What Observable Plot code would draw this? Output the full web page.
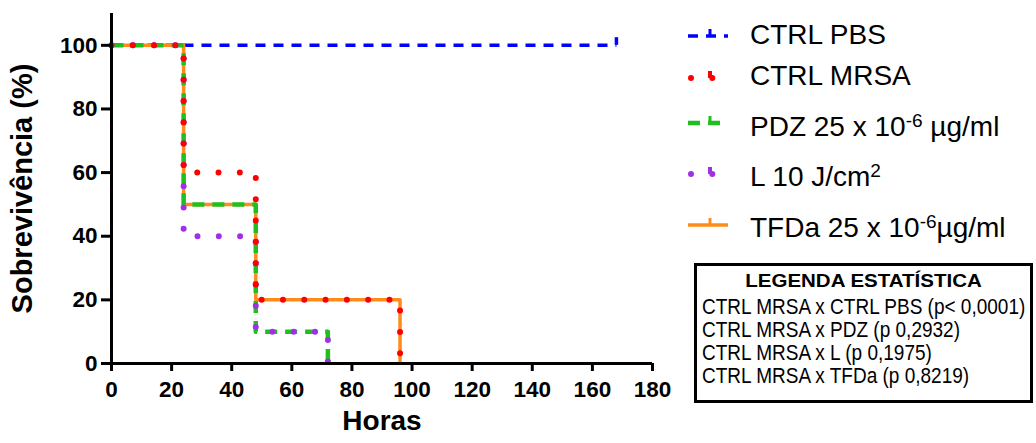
<!DOCTYPE html>
<html>
<head>
<meta charset="utf-8">
<script src="https://cdn.jsdelivr.net/npm/d3@7"></script>
<script src="https://cdn.jsdelivr.net/npm/@observablehq/plot@0.6"></script>
<style>
  body { margin: 0; background: #fff; }
  #wrap { position: relative; width: 1036px; height: 443px; font-family: "Liberation Sans", Arial, sans-serif; color: #000; }
  #wrap svg { font-family: "Liberation Sans", Arial, sans-serif; }
  .lg { position: absolute; left: 750px; font-size: 28px; line-height: 28px; white-space: nowrap; }
  .sp { position: relative; top: -0.5em; font-size: 0.68em; }
  #box { position: absolute; left: 694px; top: 263px; width: 339px; height: 140px; box-sizing: border-box; border: 3px solid #000; }
  .st { position: absolute; left: 702px; font-size: 19px; line-height: 19px; white-space: nowrap; transform: scaleY(1.12); transform-origin: left center; }
  .stt { position: absolute; left: 694px; width: 339px; text-align: center; font-weight: bold; font-size: 20.5px; line-height: 20.5px; white-space: nowrap; transform: scaleY(0.9); }
</style>
</head>
<body>
<div id="wrap"></div>
<script>
// ---- data ----
const seriesNames = ["CTRL PBS", "CTRL MRSA", "PDZ 25 x 10-6 µg/ml", "L 10 J/cm2", "TFDa 25 x 10-6µg/ml"];
const pbsHours = [0, 168];
const pbsSurv = [100, 100];
const mrsaHours = [0, 24, 48, 96];
const mrsaSurv = [100, 60, 20, 0];
const pdzHours = [0, 24, 48, 72];
const pdzSurv = [100, 50, 10, 0];
const lHours = [0, 24, 48, 72];
const lSurv = [100, 40, 10, 0];
const tfdaHours = [0, 24, 48, 96];
const tfdaSurv = [100, 50, 20, 0];
const censorHours = [168];
const censorSurv = [100];
const xTicks = [0, 20, 40, 60, 80, 100, 120, 140, 160, 180];
const yTicks = [0, 20, 40, 60, 80, 100];
const statTitle = "LEGENDA ESTATÍSTICA";
const statLines = [
  "CTRL MRSA x CTRL PBS (p< 0,0001)",
  "CTRL MRSA x PDZ (p 0,2932)",
  "CTRL MRSA x L (p 0,1975)",
  "CTRL MRSA x TFDa (p 0,8219)"
];

const toRows = (h, s) => h.map((t, i) => ({t, s: s[i]}));

const styles = {
  pbs:  {stroke: "#0000ff", strokeWidth: 3.5, strokeDasharray: "10 8", strokeLinecap: "butt"},
  mrsa: {stroke: "#ff0000", strokeWidth: 6, strokeDasharray: "0 21.3", strokeLinecap: "round"},
  pdz:  {stroke: "#1fbf1f", strokeWidth: 4.5, strokeDasharray: "12 8", strokeLinecap: "butt"},
  l:    {stroke: "#a030e8", strokeWidth: 6, strokeDasharray: "0 21.3", strokeLinecap: "round"},
  tfda: {stroke: "#ff8c1a", strokeWidth: 3.5}
};

const font = "Liberation Sans, Arial, sans-serif";

const chart = Plot.plot({
  width: 1036,
  height: 443,
  marginLeft: 111,
  marginRight: 384,
  marginTop: 13,
  marginBottom: 80,
  x: {domain: [0, 180]},
  y: {domain: [0, 110]},
  style: {fontFamily: font, background: "transparent", overflow: "visible", color: "#000"},
  marks: [
    Plot.line(toRows(pbsHours, pbsSurv), {x: "t", y: "s", curve: "step-after", ...styles.pbs}),
    Plot.line(toRows(tfdaHours, tfdaSurv), {x: "t", y: "s", curve: "step-after", ...styles.tfda}),
    Plot.line(toRows(pdzHours, pdzSurv), {x: "t", y: "s", curve: "step-after", ...styles.pdz}),
    Plot.line(toRows(lHours, lSurv), {x: "t", y: "s", curve: "step-after", ...styles.l}),
    Plot.line(toRows(mrsaHours, mrsaSurv), {x: "t", y: "s", curve: "step-after", ...styles.mrsa}),
    Plot.ruleX(toRows(censorHours, censorSurv), {x: "t", y1: "s", y2: d => d.s + 2.4, stroke: "#0000ff", strokeWidth: 3.5}),
    Plot.ruleY([0], {stroke: "#000", strokeWidth: 3}),
    Plot.ruleX([0], {y1: 0, y2: 110, stroke: "#000", strokeWidth: 3}),
    Plot.axisX({ticks: xTicks, tickSize: 8, tickPadding: 10, strokeWidth: 3, fontSize: 22.5, fontWeight: "bold", tickFormat: d => String(d), label: null}),
    Plot.axisY({ticks: yTicks, tickSize: 10, tickPadding: 4, strokeWidth: 3, fontSize: 22.5, fontWeight: "bold", tickFormat: d => String(d), label: null}),
    Plot.text(["Horas"], {text: d => d, frameAnchor: "bottom", dy: 66, fontSize: 28, fontWeight: "bold"}),
    Plot.text(["Sobrevivência (%)"], {text: d => d, frameAnchor: "left", textAnchor: "middle", dx: -89, rotate: -90, fontSize: 29, fontWeight: "bold"})
  ]
});

const wrap = document.getElementById("wrap");
wrap.appendChild(chart);

// ---- legend ----
const legendKeys = ["pbs", "mrsa", "pdz", "l", "tfda"];
const legendHtml = [
  "CTRL PBS",
  "CTRL MRSA",
  'PDZ 25 x 10<span class="sp">-6</span> µg/ml',
  'L 10 J/cm<span class="sp">2</span>',
  'TFDa 25 x 10<span class="sp">-6</span>µg/ml'
];
const legendBaselines = [45, 86, 137, 187, 238];
const legendSampleY = [36, 78, 123, 174, 225];

const ns = "http://www.w3.org/2000/svg";
const lsvg = document.createElementNS(ns, "svg");
lsvg.setAttribute("width", 1036);
lsvg.setAttribute("height", 443);
lsvg.style.position = "absolute";
lsvg.style.left = "0px";
lsvg.style.top = "0px";
lsvg.style.pointerEvents = "none";
legendKeys.forEach((k, i) => {
  const st = styles[k];
  const y = legendSampleY[i];
  const ln = document.createElementNS(ns, "line");
  ln.setAttribute("x1", k === "mrsa" || k === "l" ? 691 : 688);
  ln.setAttribute("x2", 728);
  ln.setAttribute("y1", y);
  ln.setAttribute("y2", y);
  ln.setAttribute("stroke", st.stroke);
  ln.setAttribute("stroke-width", st.strokeWidth);
  if (st.strokeDasharray) ln.setAttribute("stroke-dasharray", st.strokeDasharray);
  if (st.strokeLinecap) ln.setAttribute("stroke-linecap", st.strokeLinecap);
  lsvg.appendChild(ln);
  const tk = document.createElementNS(ns, "line");
  tk.setAttribute("x1", 710); tk.setAttribute("x2", 710);
  tk.setAttribute("y1", y); tk.setAttribute("y2", y - 7);
  tk.setAttribute("stroke", st.stroke);
  tk.setAttribute("stroke-width", k === "mrsa" || k === "l" ? 4 : 3);
  lsvg.appendChild(tk);
  const div = document.createElement("div");
  div.className = "lg";
  div.style.top = (legendBaselines[i] - 23.7) + "px";
  div.innerHTML = legendHtml[i];
  wrap.appendChild(div);
});
wrap.appendChild(lsvg);

// ---- statistics box ----
const box = document.createElement("div");
box.id = "box";
wrap.appendChild(box);
const tt = document.createElement("div");
tt.className = "stt";
tt.style.top = (288 - 17.4) + "px";
tt.textContent = statTitle;
wrap.appendChild(tt);
const statBaselines = [313, 336, 359, 382];
statLines.forEach((s, i) => {
  const d = document.createElement("div");
  d.className = "st";
  d.style.top = (statBaselines[i] - 16.1) + "px";
  d.textContent = s;
  wrap.appendChild(d);
});
</script>
</body>
</html>
